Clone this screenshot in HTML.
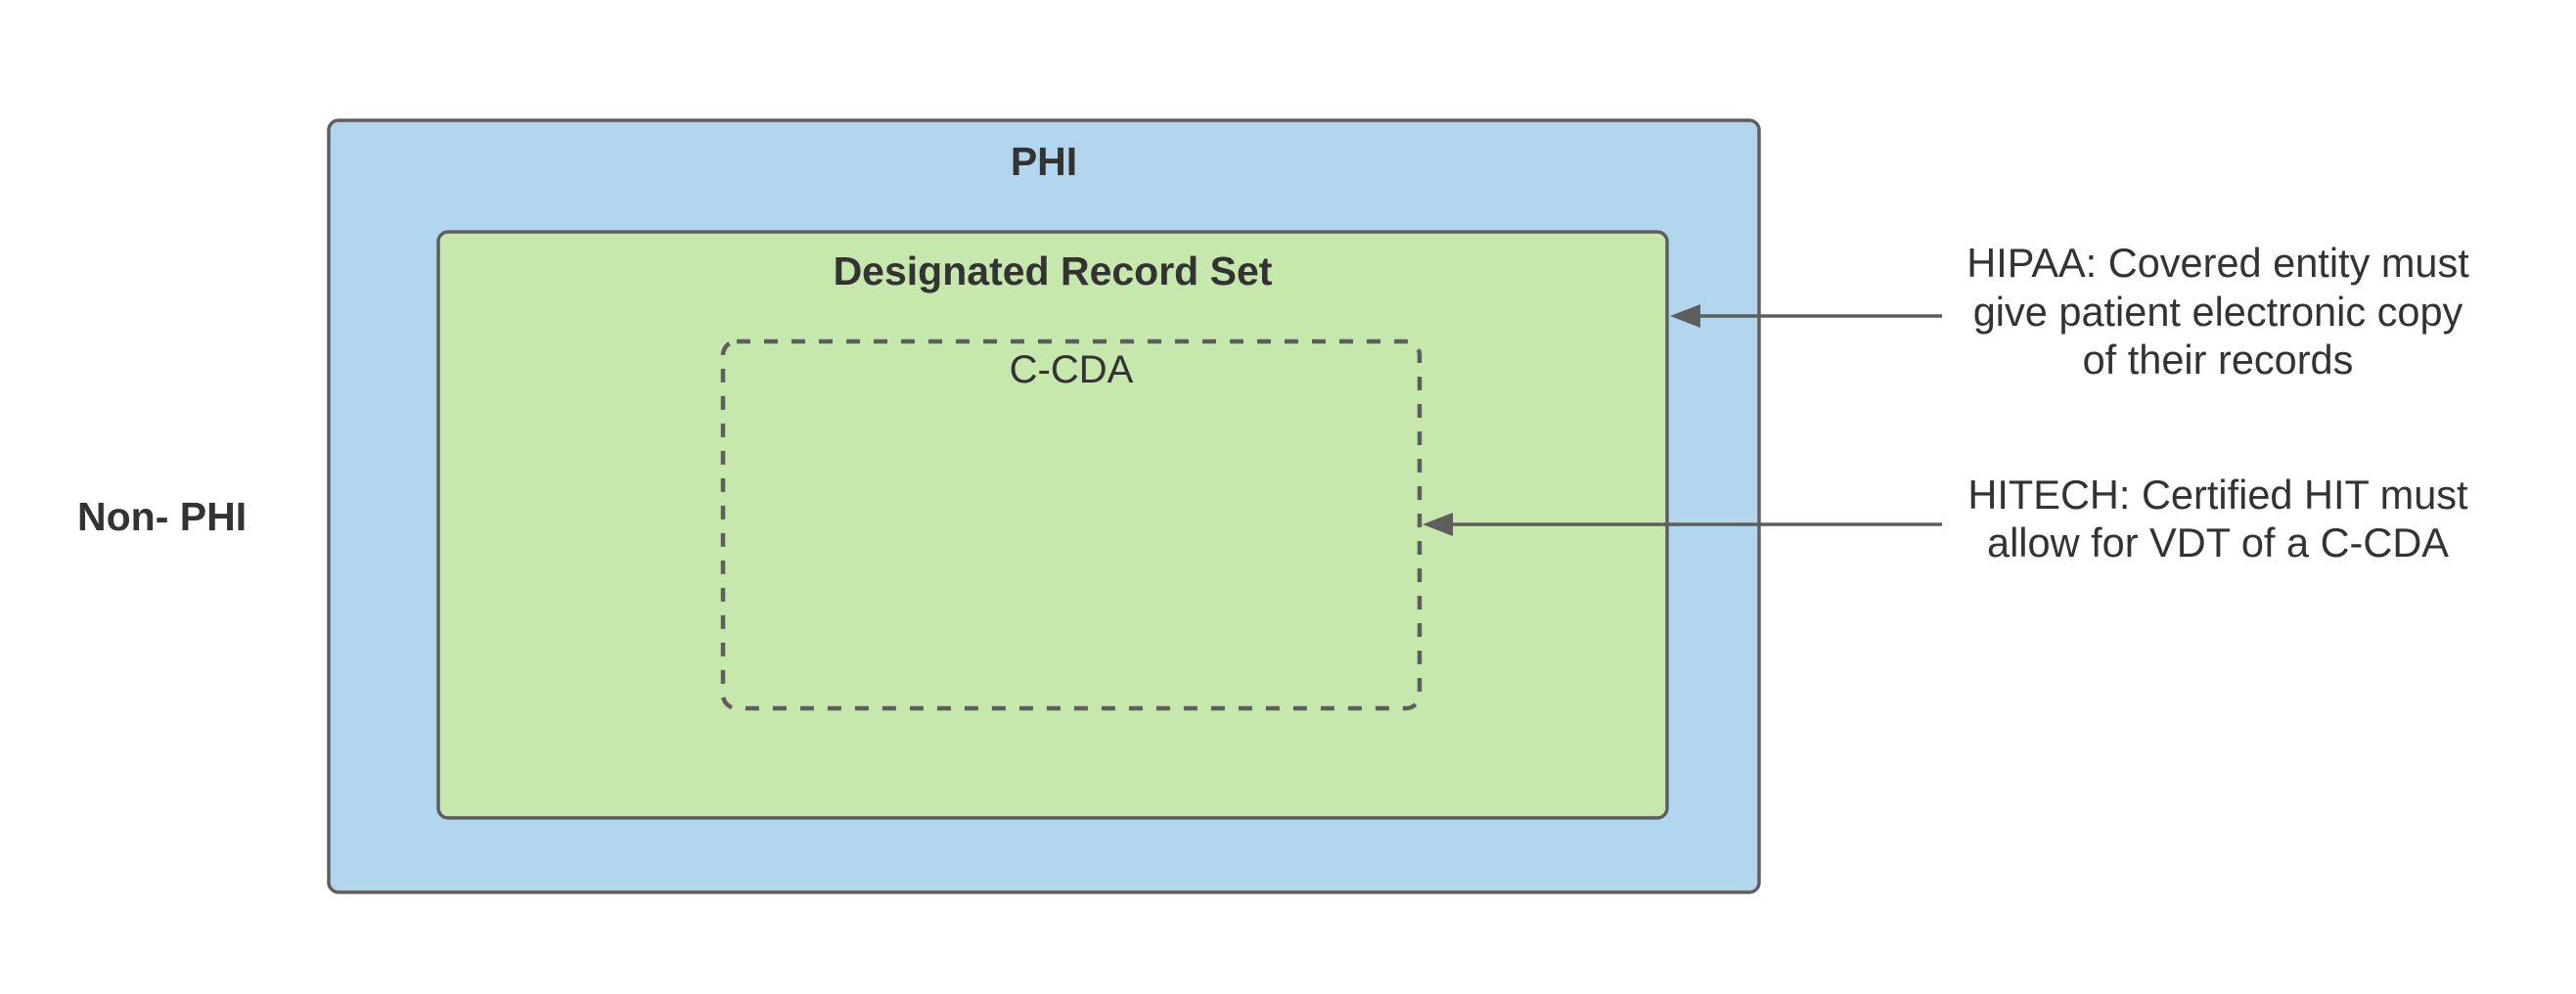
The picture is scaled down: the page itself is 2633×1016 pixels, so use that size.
<!DOCTYPE html>
<html><head><meta charset="utf-8"><style>html,body{margin:0;padding:0;background:#fff}svg{display:block}</style></head>
<body>
<svg width="2633" height="1016" viewBox="0 0 2633 1016" xmlns="http://www.w3.org/2000/svg" font-family="Liberation Sans, sans-serif" fill="#333">
<rect x="336" y="123" width="1462" height="789" rx="10" fill="#b3d6ef" stroke="#5e5e5e" stroke-width="3.5"/>
<rect x="448" y="237" width="1256" height="599" rx="10" fill="#c7e8ad" stroke="#5e5e5e" stroke-width="3.5"/>
<rect x="739" y="349" width="712" height="375" rx="14" fill="none" stroke="#5e5e5e" stroke-width="4.5" stroke-dasharray="14,14"/>
<text x="1067" y="179" font-size="41" font-weight="bold" text-anchor="middle" fill="#333">PHI</text>
<text x="1076" y="291" font-size="41" font-weight="bold" text-anchor="middle" fill="#333">Designated Record Set</text>
<text x="1095" y="391" font-size="40" text-anchor="middle" fill="#333">C-CDA</text>
<text x="79" y="542" font-size="41" font-weight="bold" fill="#333">Non- PHI</text>
<line x1="1985" y1="323" x2="1730" y2="323" stroke="#5e5e5e" stroke-width="3.5"/>
<polygon points="1707,323 1738,311 1738,335" fill="#5e5e5e"/>
<line x1="1985" y1="536" x2="1478" y2="536" stroke="#5e5e5e" stroke-width="3.5"/>
<polygon points="1454,536 1485,524 1485,548" fill="#5e5e5e"/>
<g font-size="41.5" text-anchor="middle" fill="#333">
<text x="2267" y="283">HIPAA: Covered entity must</text>
<text x="2267" y="333">give patient electronic copy</text>
<text x="2267" y="382">of their records</text>
<text x="2267" y="520">HITECH: Certified HIT must</text>
<text x="2267" y="569">allow for VDT of a C-CDA</text>
</g>
</svg>
</body></html>
